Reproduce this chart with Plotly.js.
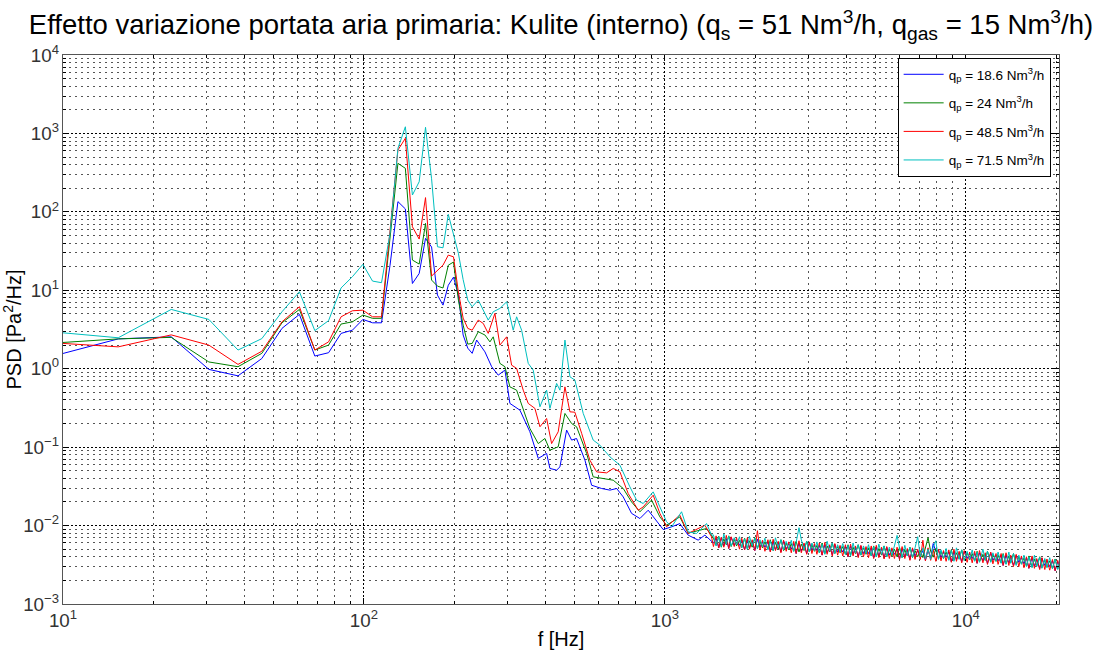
<!DOCTYPE html>
<html>
<head>
<meta charset="utf-8">
<script src="https://cdn.plot.ly/plotly-3.0.1.min.js"></script>
<style>html,body{margin:0;padding:0;background:#fff;}#chart{width:1099px;height:652px;}</style>
</head>
<body>
<div id="chart"></div>
<script>
// ---- DATA ----
const seriesNames = [
  'q<sub>p</sub> = 18.6 Nm<sup>3</sup>/h',
  'q<sub>p</sub> = 24 Nm<sup>3</sup>/h',
  'q<sub>p</sub> = 48.5 Nm<sup>3</sup>/h',
  'q<sub>p</sub> = 71.5 Nm<sup>3</sup>/h'
];

// low-frequency FFT bins (Hz)
const lf_freq = [7.63, 15.26, 22.89, 30.52, 38.15, 45.78, 53.41, 61.04, 68.67, 76.3, 83.93, 91.56, 99.19, 106.8, 114.4, 122.1, 129.7, 137.3, 144.9, 152.6, 160.2, 167.8, 175.5, 183.1, 190.7, 198.4, 206.0, 213.6, 221.3, 228.9];

// high-frequency band (Hz)
const hf_freq = [1450,1480,1510,1540,1570,1600,1630,1660,1700,1730,
  1770,1800,1840,1880,1910,1950,1990,2030,2070,2110,
  2150,2200,2240,2290,2330,2380,2430,2480,2530,2580,
  2630,2680,2730,2790,2840,2900,2960,3020,3080,3140,
  3200,3260,3330,3400,3460,3530,3600,3670,3750,3820,
  3900,3980,4060,4140,4220,4300,4390,4480,4570,4660,
  4750,4850,4940,5040,5140,5250,5350,5460,5570,5680,
  5790,5910,6020,6140,6270,6390,6520,6650,6780,6920,
  7060,7200,7340,7490,7640,7790,7950,8110,8270,8430,
  8600,8780,8950,9130,9310,9500,9690,9880,10100,10300,
  10500,10700,10900,11100,11400,11600,11800,12100,12300,12600,
  12800,13100,13300,13600,13900,14100,14400,14700,15000,15300,
  15600,15900,16200,16600,16900,17200,17600,17900,18300,18600,
  19000,19400,19800,20200,20400];

// qp = 18.6 (blue)
const blue_lf = [1.19, 2.40, 2.55, 0.98, 0.811, 1.35, 3.27, 4.93, 1.45, 1.60, 2.82, 3.10, 4.25, 3.85, 3.85, 20.9, 135, 109, 12.2, 16.4, 45.9, 35.6, 8.69, 6.47, 11.6, 14.7, 8.69, 2.69, 1.83, 1.57];
const blue_mid_f = [236.9, 252.4, 265.7, 279.4, 294.1, 305.5, 329.9, 356.0, 379.5, 404.6, 414.9, 436.8, 448.0, 471.5, 489.8, 508.8, 542.4, 570.9, 616.3, 656.8, 691.3, 727.1, 775.1, 826.0, 880.1, 926.5, 987.2, 1053, 1121, 1195, 1290, 1358, 1411];
const blue_mid = [2.32, 1.64, 1.06, 0.828, 0.960, 0.361, 0.296, 0.157, 0.0718, 0.0832, 0.0535, 0.0509, 0.0561, 0.165, 0.123, 0.129, 0.0682, 0.0327, 0.0297, 0.0283, 0.0297, 0.0232, 0.0143, 0.0123, 0.0157, 0.0123, 0.00891, 0.00964, 0.0106, 0.00755, 0.00652, 0.00755, 0.00652];
const blue_hf = [6.0e-3,6.9e-3,5.2e-3,7.0e-3,5.5e-3,6.8e-3,5.1e-3,7.1e-3,5.6e-3,6.6e-3,
  5.6e-3,6.5e-3,4.9e-3,6.6e-3,5.2e-3,6.4e-3,4.8e-3,6.7e-3,5.3e-3,6.2e-3,
  5.3e-3,6.2e-3,4.7e-3,6.3e-3,4.9e-3,6.1e-3,4.6e-3,6.4e-3,5.0e-3,5.9e-3,
  5.0e-3,5.9e-3,4.4e-3,6.0e-3,4.7e-3,5.8e-3,4.4e-3,6.1e-3,4.8e-3,5.6e-3,
  4.8e-3,5.6e-3,4.2e-3,5.7e-3,4.5e-3,5.5e-3,4.2e-3,5.8e-3,4.6e-3,5.4e-3,
  4.6e-3,5.4e-3,4.0e-3,5.5e-3,4.3e-3,5.3e-3,4.0e-3,5.5e-3,4.4e-3,5.2e-3,
  4.4e-3,5.2e-3,3.85e-3,5.3e-3,4.1e-3,5.1e-3,3.85e-3,5.3e-3,4.2e-3,5.0e-3,
  4.3e-3,5.0e-3,3.75e-3,5.1e-3,4.0e-3,4.9e-3,3.7e-3,5.1e-3,4.1e-3,4.8e-3,
  4.1e-3,4.8e-3,3.6e-3,4.9e-3,3.85e-3,5.9e-3,4.7e-3,4.9e-3,3.9e-3,4.6e-3,
  3.95e-3,4.6e-3,3.45e-3,4.7e-3,3.7e-3,4.5e-3,3.45e-3,4.7e-3,3.8e-3,4.4e-3,
  3.8e-3,4.4e-3,3.3e-3,4.5e-3,3.55e-3,4.3e-3,3.3e-3,4.5e-3,3.6e-3,4.2e-3,
  3.55e-3,4.2e-3,3.1e-3,4.2e-3,3.35e-3,4.0e-3,3.1e-3,4.2e-3,3.4e-3,3.9e-3,
  3.25e-3,3.85e-3,2.85e-3,3.9e-3,3.05e-3,3.7e-3,2.85e-3,3.85e-3,3.1e-3,3.6e-3,
  3.0e-3,3.55e-3,2.65e-3,3.5e-3,3.1e-3];

// qp = 24 (green)
const green_lf = [2.02, 2.40, 2.51, 1.22, 1.06, 1.57, 3.85, 5.70, 1.73, 2.00, 3.71, 3.96, 4.83, 4.39, 4.39, 43.7, 416, 359, 24.3, 21.6, 71.3, 13.5, 11.3, 10.7, 20.9, 22.9, 7.50, 3.60, 2.06, 2.10];
const green_mid_f = [239.8, 252.4, 262.2, 268.9, 283.0, 294.1, 305.5, 321.6, 338.3, 356.0, 379.5, 399.3, 414.9, 442.1, 465.5, 489.8, 508.8, 549.5, 577.8, 623.7, 673.4, 727.1, 775.1, 826.0, 903.3, 962.5, 1013, 1121, 1195, 1376, 1443];
const green_mid = [2.96, 2.69, 2.20, 2.55, 1.17, 1.06, 0.587, 0.533, 0.296, 0.173, 0.111, 0.129, 0.0916, 0.101, 0.269, 0.200, 0.182, 0.0832, 0.0418, 0.0399, 0.0379, 0.0297, 0.0200, 0.0150, 0.0211, 0.0129, 0.0101, 0.0129, 0.0080, 0.00918, 0.00706];
const green_hf = [6.9e-3,5.6e-3,7.3e-3,5.3e-3,6.8e-3,5.7e-3,7.4e-3,5.4e-3,6.7e-3,5.5e-3,
  6.5e-3,5.2e-3,6.9e-3,5.0e-3,6.4e-3,5.3e-3,7.0e-3,5.1e-3,6.3e-3,5.2e-3,
  6.2e-3,5.0e-3,6.6e-3,4.8e-3,6.1e-3,5.0e-3,6.6e-3,4.8e-3,6.0e-3,4.9e-3,
  5.9e-3,4.7e-3,6.3e-3,4.6e-3,5.8e-3,4.8e-3,6.3e-3,4.6e-3,5.7e-3,4.7e-3,
  5.6e-3,4.5e-3,6.0e-3,4.4e-3,5.5e-3,4.6e-3,6.0e-3,4.4e-3,5.4e-3,4.5e-3,
  5.4e-3,4.3e-3,5.7e-3,4.2e-3,5.3e-3,4.4e-3,5.7e-3,4.2e-3,5.2e-3,4.3e-3,
  5.2e-3,4.1e-3,5.5e-3,4.0e-3,5.1e-3,4.2e-3,5.5e-3,4.0e-3,5.0e-3,4.1e-3,
  5.0e-3,4.0e-3,5.3e-3,3.9e-3,4.9e-3,4.1e-3,5.3e-3,3.9e-3,4.8e-3,4.0e-3,
  4.8e-3,3.9e-3,5.1e-3,7.0e-3,4.7e-3,3.95e-3,5.1e-3,3.75e-3,4.7e-3,3.8e-3,
  4.6e-3,3.7e-3,4.9e-3,3.6e-3,4.5e-3,3.75e-3,4.9e-3,3.6e-3,4.5e-3,3.65e-3,
  4.4e-3,3.55e-3,4.7e-3,3.45e-3,4.3e-3,3.6e-3,4.7e-3,3.45e-3,4.3e-3,3.5e-3,
  4.2e-3,3.35e-3,4.4e-3,3.25e-3,4.1e-3,3.35e-3,4.4e-3,3.2e-3,4.0e-3,3.25e-3,
  3.85e-3,3.05e-3,4.1e-3,2.95e-3,3.75e-3,3.05e-3,4.0e-3,2.9e-3,3.65e-3,2.95e-3,
  3.55e-3,2.85e-3,3.75e-3,2.8e-3,3.2e-3];

// qp = 48.5 (red)
const red_lf = [2.24, 1.90, 2.70, 2.00, 1.135, 1.67, 3.96, 6.17, 1.73, 2.20, 4.59, 5.48, 5.58, 4.59, 4.59, 53.7, 614, 867, 64.6, 45.0, 152, 15.2, 18.1, 20.9, 28.1, 26.7, 9.48, 4.42, 3.27, 3.10];
const red_mid_f = [239.8, 249.1, 258.8, 272.4, 283.0, 298.0, 309.5, 321.6, 338.3, 351.5, 369.9, 384.4, 404.6, 420.3, 442.1, 465.5, 483.6, 502.3, 528.9, 563.4, 593.2, 640.3, 673.4, 708.8, 755.3, 815.4, 847.1, 914.5, 962.5, 1013, 1121, 1195, 1358, 1429];
const red_mid = [4.17, 3.78, 2.82, 5.07, 2.00, 2.55, 1.11, 1.01, 0.533, 0.361, 0.312, 0.182, 0.232, 0.111, 0.157, 0.587, 0.282, 0.279, 0.150, 0.0682, 0.0484, 0.0470, 0.0535, 0.0484, 0.0256, 0.0157, 0.0173, 0.0244, 0.0143, 0.00964, 0.0136, 0.00793, 0.0101, 0.00718];
const red_hf = [5.4e-3,7.4e-3,5.2e-3,7.1e-3,5.3e-3,7.5e-3,5.1e-3,7.2e-3,5.4e-3,7.0e-3,
  5.0e-3,6.9e-3,4.9e-3,7.0e-3,5.0e-3,6.6e-3,4.8e-3,8.6e-3,4.9e-3,6.5e-3,
  4.7e-3,6.6e-3,4.6e-3,6.7e-3,4.8e-3,6.3e-3,4.5e-3,6.5e-3,4.7e-3,6.2e-3,
  4.5e-3,6.3e-3,4.4e-3,6.4e-3,4.5e-3,6.0e-3,4.3e-3,6.2e-3,4.4e-3,5.9e-3,
  4.3e-3,6.0e-3,4.2e-3,6.1e-3,4.3e-3,5.7e-3,4.1e-3,5.9e-3,4.2e-3,5.6e-3,
  4.1e-3,5.7e-3,4.0e-3,5.8e-3,4.1e-3,5.5e-3,3.9e-3,5.6e-3,4.0e-3,5.4e-3,
  3.9e-3,5.5e-3,3.8e-3,5.6e-3,3.9e-3,5.3e-3,3.75e-3,5.4e-3,3.8e-3,5.2e-3,
  3.8e-3,5.3e-3,3.7e-3,5.4e-3,3.8e-3,5.1e-3,3.6e-3,5.2e-3,3.7e-3,5.0e-3,
  3.7e-3,6.5e-3,3.55e-3,5.2e-3,3.6e-3,4.9e-3,3.5e-3,5.0e-3,3.55e-3,4.8e-3,
  3.5e-3,4.9e-3,3.4e-3,5.0e-3,3.5e-3,4.7e-3,3.35e-3,4.8e-3,3.4e-3,4.6e-3,
  3.35e-3,4.7e-3,3.3e-3,4.8e-3,3.35e-3,4.5e-3,3.2e-3,4.6e-3,3.25e-3,4.4e-3,
  3.2e-3,4.4e-3,3.1e-3,4.5e-3,3.1e-3,4.2e-3,3.0e-3,4.3e-3,3.0e-3,4.1e-3,
  2.9e-3,4.0e-3,2.85e-3,4.1e-3,2.85e-3,3.8e-3,2.75e-3,3.9e-3,2.75e-3,3.75e-3,
  2.7e-3,3.7e-3,2.65e-3,3.6e-3,3.0e-3];

// qp = 71.5 (cyan)
const cyan_lf = [3.15, 2.48, 5.70, 4.25, 1.73, 2.42, 5.32, 9.57, 3.06, 4.10, 10.7, 14.9, 21.4, 13.1, 12.5, 53.2, 646, 1216, 164, 242, 1197, 264, 35.9, 34.8, 92.9, 50.6, 29.6, 13.7, 7.50, 6.17];
const cyan_mid_f = [239.8, 258.8, 268.9, 283.0, 298.0, 313.3, 321.6, 334.2, 351.5, 365.2, 384.4, 404.6, 414.9, 436.8, 448.0, 465.5, 483.6, 502.3, 535.4, 577.8, 608.3, 656.8, 708.8, 765.1, 805.4, 847.1, 914.5, 962.5, 1013, 1053, 1136, 1195, 1274, 1376, 1429];
const cyan_mid = [7.50, 4.17, 5.32, 5.87, 7.13, 3.10, 4.59, 3.10, 1.17, 0.960, 0.327, 0.533, 0.312, 0.649, 0.533, 2.32, 0.789, 0.716, 0.269, 0.123, 0.106, 0.0752, 0.0589, 0.0312, 0.0211, 0.0191, 0.0269, 0.0173, 0.0112, 0.00964, 0.0150, 0.00832, 0.00793, 0.0106, 0.00755];
const cyan_hf = [7.6e-3,5.5e-3,7.2e-3,5.4e-3,7.8e-3,5.8e-3,7.3e-3,5.5e-3,7.0e-3,5.7e-3,
  7.2e-3,5.2e-3,6.8e-3,5.0e-3,7.3e-3,5.5e-3,6.9e-3,5.1e-3,6.6e-3,5.4e-3,
  6.9e-3,4.9e-3,6.4e-3,4.8e-3,7.0e-3,5.2e-3,6.6e-3,4.9e-3,6.3e-3,5.1e-3,
  6.5e-3,4.7e-3,6.1e-3,9.4e-3,6.6e-3,4.9e-3,6.3e-3,4.6e-3,6.0e-3,4.8e-3,
  6.2e-3,4.5e-3,5.8e-3,4.3e-3,6.3e-3,4.7e-3,6.0e-3,4.4e-3,5.7e-3,4.6e-3,
  5.9e-3,4.3e-3,5.6e-3,4.1e-3,6.0e-3,4.5e-3,5.7e-3,4.2e-3,5.5e-3,4.4e-3,
  5.7e-3,4.1e-3,5.4e-3,4.0e-3,5.8e-3,4.3e-3,5.5e-3,4.0e-3,5.3e-3,4.2e-3,
  5.5e-3,7.5e-3,5.2e-3,3.9e-3,5.6e-3,4.1e-3,5.3e-3,3.9e-3,5.2e-3,7.2e-3,
  4.0e-3,5.2e-3,3.8e-3,5.0e-3,3.7e-3,5.3e-3,6.4e-3,3.7e-3,4.9e-3,3.8e-3,
  5.1e-3,3.6e-3,4.8e-3,3.5e-3,5.2e-3,3.7e-3,4.9e-3,3.6e-3,4.7e-3,3.7e-3,
  4.9e-3,3.5e-3,4.6e-3,3.4e-3,5.0e-3,3.6e-3,4.7e-3,3.4e-3,4.5e-3,3.5e-3,
  4.6e-3,3.3e-3,4.3e-3,3.2e-3,4.6e-3,3.3e-3,4.4e-3,3.1e-3,4.2e-3,3.2e-3,
  4.2e-3,3.0e-3,4.0e-3,2.9e-3,4.2e-3,3.0e-3,3.95e-3,2.85e-3,3.8e-3,2.9e-3,
  3.9e-3,2.8e-3,3.7e-3,2.75e-3,3.3e-3];

const colors = ['#0000ff', '#008000', '#ff0000', '#00bfbf'];

// ---- BUILD ----
const series = [
  [blue_lf, blue_mid_f, blue_mid, blue_hf],
  [green_lf, green_mid_f, green_mid, green_hf],
  [red_lf, red_mid_f, red_mid, red_hf],
  [cyan_lf, cyan_mid_f, cyan_mid, cyan_hf]
];
const traces = series.map((s, i) => ({
  type: 'scatter', mode: 'lines',
  x: lf_freq.concat(s[1], hf_freq),
  y: s[0].concat(s[2], s[3]),
  name: seriesNames[i],
  legendgroup: 'g' + i,
  line: {color: colors[i], width: 1},
  hoverinfo: 'skip'
}));

const FONT = 'Liberation Sans, Arial, Helvetica, sans-serif';
const axisCommon = {
  type: 'log', dtick: 1, tick0: 0, exponentformat: 'power',
  ticks: 'inside', ticklen: 6, tickwidth: 1, tickcolor: '#000',
  showline: true, linecolor: '#555', linewidth: 1, mirror: 'allticks',
  showgrid: true, gridcolor: '#000', griddash: '2px,2px', gridwidth: 1,
  zeroline: false,
  minor: {ticks: 'inside', ticklen: 3, tickcolor: '#000', showgrid: true, gridcolor: '#555', griddash: '2px,4px', gridwidth: 1},
  tickfont: {family: FONT, size: 15, color: '#333'}
};

const layout = {
  width: 1099, height: 652,
  margin: {l: 63, r: 40, t: 55, b: 48},
  paper_bgcolor: '#fff', plot_bgcolor: '#fff',
  font: {family: FONT, color: '#000'},
  showlegend: true,
  title: {
    text: 'Effetto variazione portata aria primaria: Kulite (interno) (q<sub>s</sub> = 51 Nm<sup>3</sup>/h, q<sub>gas</sub> = 15 Nm<sup>3</sup>/h)',
    font: {family: FONT, size: 27.5, color: '#000'},
    x: 0.5, xanchor: 'center', xref: 'paper', y: 0.962, yanchor: 'middle'
  },
  xaxis: Object.assign({}, axisCommon, {
    range: [1, 4.3096],
    labelalias: {'10': '10<sup>1</sup>'},
    title: {text: 'f [Hz]', font: {family: FONT, size: 20, color: '#000'}, standoff: 2}
  }),
  yaxis: Object.assign({}, axisCommon, {
    range: [-3, 4],
    labelalias: {'1': '10<sup>0</sup>', '10': '10<sup>1</sup>'},
    title: {text: 'PSD [Pa<sup>2</sup>/Hz]', font: {family: FONT, size: 20, color: '#000'}, standoff: 3}
  }),
  legend: {
    x: 0.838, y: 0.9945, xanchor: 'left', yanchor: 'top',
    bgcolor: '#fff', bordercolor: '#000', borderwidth: 1,
    font: {family: FONT, size: 13.5, color: '#000'},
    itemwidth: 40,
    tracegroupgap: 8
  }
};

Plotly.newPlot('chart', traces, layout, {displayModeBar: false, staticPlot: true});
</script>
</body>
</html>
